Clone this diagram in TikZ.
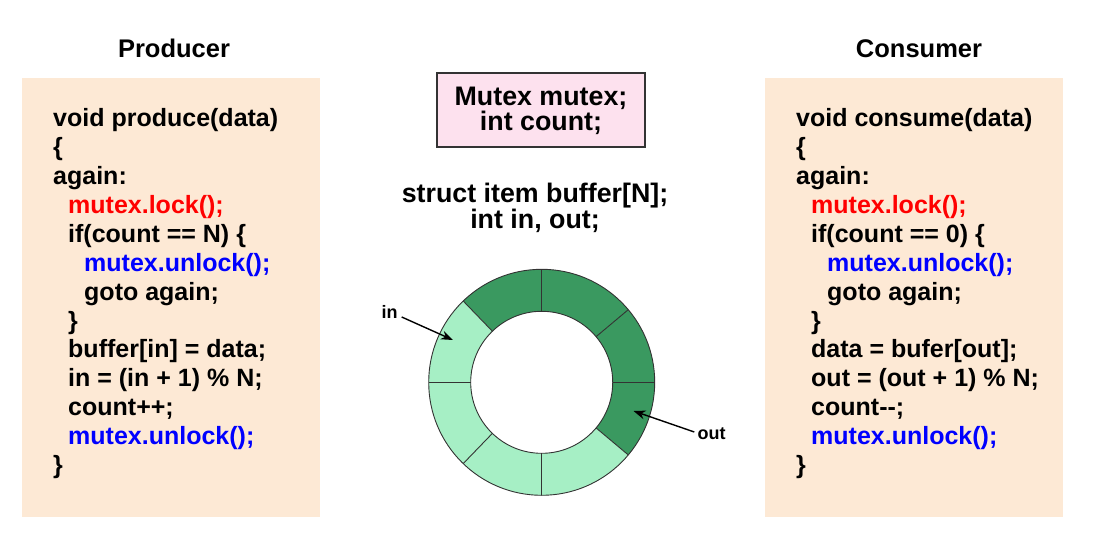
\documentclass[tikz,border=0pt]{standalone}
\usepackage{fontspec}
\setmainfont{Liberation Sans}
\usetikzlibrary{arrows.meta}
\definecolor{panel}{HTML}{FDE9D5}
\definecolor{pinkbox}{HTML}{FDE1EE}
\definecolor{darkg}{HTML}{3A9960}
\definecolor{lightg}{HTML}{A6EFC5}
\definecolor{codered}{HTML}{FF0000}
\definecolor{codeblue}{HTML}{0000FF}
\definecolor{edgegray}{HTML}{333333}
\begin{document}
\begin{tikzpicture}[x=1pt,y=-1pt,
  code/.style={anchor=base west, inner sep=0pt, font=\fontsize{25}{30}\selectfont\bfseries},
  lockc/.style={code, text=codered},
  unlockc/.style={code, text=codeblue},
  title/.style={anchor=base, inner sep=0pt, font=\fontsize{25.5}{30}\selectfont\bfseries},
  decl/.style={anchor=center, inner sep=0pt, align=center, font=\fontsize{26.8}{23.5}\selectfont\bfseries},
  ptr/.style={inner sep=1pt, font=\fontsize{18}{22}\selectfont\bfseries},
  ptrarrow/.style={line width=1.4pt, -{Stealth[length=12pt,width=9pt]}},
  panelbox/.style={fill=panel, draw=none},
  segline/.style={draw=edgegray, line width=0.9pt}
]
\useasboundingbox (0,0) rectangle (1094,556);

% panels
\path[panelbox] (22,78) rectangle (320,517);
\path[panelbox] (765,78) rectangle (1063,517);

% titles
\node[title] (ptitle) at (174,58) {Producer};
\node[title] (ctitle) at (919,58) {Consumer};

% producer code
\node[code] (p1) at (53,126.7) {void produce(data)};
\node[code] (p2) at (53,155.6) {\{};
\node[code] (p3) at (53,184.5) {again:};
\node[lockc] (p4) at (68,213.4) {mutex.lock();};
\node[code] (p5) at (68,242.3) {if(count == N) \{};
\node[unlockc] (p6) at (84,271.2) {mutex.unlock();};
\node[code] (p7) at (84,300.1) {goto again;};
\node[code] (p8) at (68,329.0) {\}};
\node[code] (p9) at (68,357.9) {buffer[in] = data;};
\node[code] (p10) at (68,386.8) {in = (in + 1) \% N;};
\node[code] (p11) at (68,415.7) {count++;};
\node[unlockc] (p12) at (68,444.6) {mutex.unlock();};
\node[code] (p13) at (53,473.5) {\}};

% consumer code
\node[code] (c1) at (796,126.7) {void consume(data)};
\node[code] (c2) at (796,155.6) {\{};
\node[code] (c3) at (796,184.5) {again:};
\node[lockc] (c4) at (811,213.4) {mutex.lock();};
\node[code] (c5) at (811,242.3) {if(count == 0) \{};
\node[unlockc] (c6) at (827,271.2) {mutex.unlock();};
\node[code] (c7) at (827,300.1) {goto again;};
\node[code] (c8) at (811,329.0) {\}};
\node[code] (c9) at (811,357.9) {data = bufer[out];};
\node[code] (c10) at (811,386.8) {out = (out + 1) \% N;};
\node[code] (c11) at (811,415.7) {count-{}-;};
\node[unlockc] (c12) at (811,444.6) {mutex.unlock();};
\node[code] (c13) at (796,473.5) {\}};

% shared variables box
\draw[fill=pinkbox, draw=edgegray, line width=1.2pt] (437,73) rectangle (645,147);
\node[decl] (mvars) at (541,111) {Mutex mutex;\\int count;};

% buffer declaration
\node[decl] (svars) at (535,207.5) {struct item buffer[N];\\int in, out;};

% ring buffer
\begin{scope}[shift={(541.7,382.3)}, yscale=-1]
  \foreach \a/\b/\c in {134/90/darkg, 90/40/darkg, 40/0/darkg, 0/-40/darkg,
                        -40/-90/lightg, -90/-134/lightg, -134/-180/lightg, 180/134/lightg}
    \fill[\c] (\a:113) arc[start angle=\a, end angle=\b, radius=113]
      -- (\b:71) arc[start angle=\b, end angle=\a, radius=71] -- cycle;
  \foreach \a in {134, 90, 40, 0, -40, -90, -134, 180}
    \draw[segline] (\a:71) -- (\a:113);
  \draw[segline] (0,0) circle[radius=113];
  \draw[segline] (0,0) circle[radius=71];
\end{scope}

% pointers
\node[ptr] (inlbl) at (389.5,312) {in};
\node[ptr] (outlbl) at (711.5,434) {out};
\coordinate (intip) at (453,340);
\coordinate (outtip) at (633.5,411);
\path (inlbl.east) ++(3,5) coordinate (instart);
\path (outlbl.west) ++(-2,-2) coordinate (outstart);
\draw[ptrarrow] (instart) -- (intip);
\draw[ptrarrow] (outstart) -- (outtip);
\end{tikzpicture}
\end{document}
